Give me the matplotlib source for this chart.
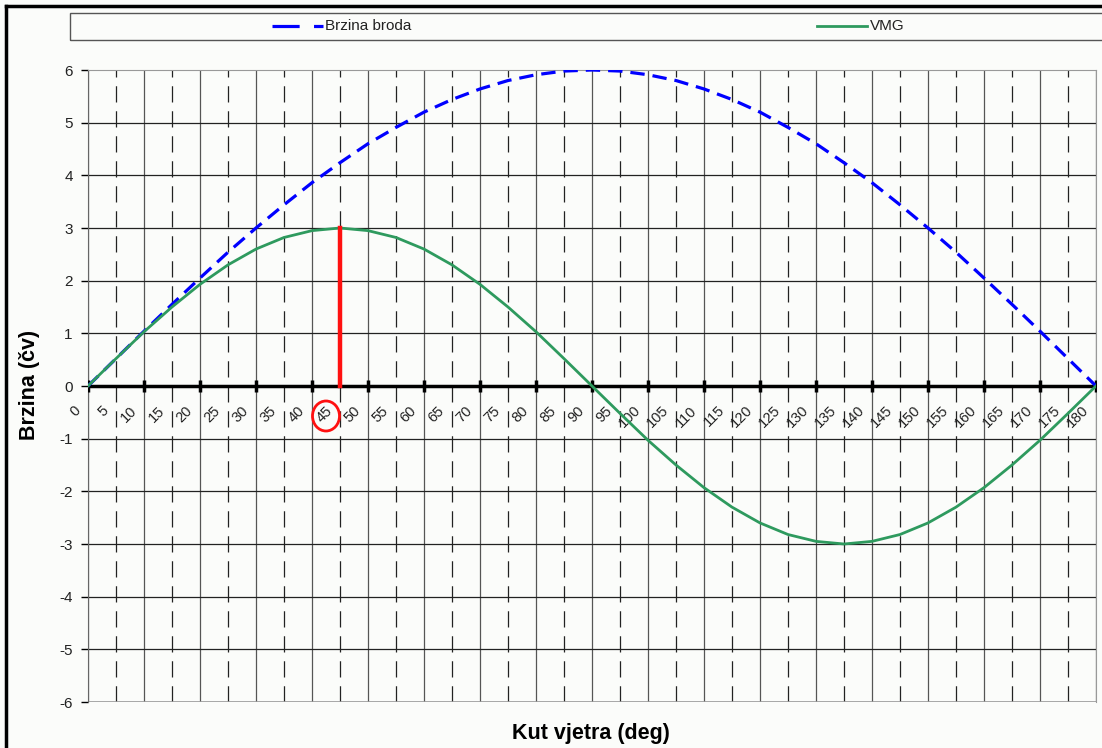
import numpy as np
import matplotlib
matplotlib.use('Agg')
import matplotlib.pyplot as plt
from matplotlib.patches import Ellipse, Rectangle
from matplotlib.lines import Line2D

plt.rcParams['font.family'] = ['Liberation Sans', 'DejaVu Sans']

# data
kut = list(range(0, 185, 5))
brzina_broda = [0, 0.52, 1.04, 1.55, 2.05, 2.54, 3.0, 3.44, 3.86, 4.24,
                4.6, 4.91, 5.2, 5.44, 5.64, 5.8, 5.91, 5.98, 6.0, 5.98,
                5.91, 5.8, 5.64, 5.44, 5.2, 4.91, 4.6, 4.24, 3.86, 3.44,
                3.0, 2.54, 2.05, 1.55, 1.04, 0.52, 0]
vmg = [0, 0.52, 1.03, 1.5, 1.93, 2.3, 2.6, 2.82, 2.95, 3.0,
       2.95, 2.82, 2.6, 2.3, 1.93, 1.5, 1.03, 0.52, 0, -0.52,
       -1.03, -1.5, -1.93, -2.3, -2.6, -2.82, -2.95, -3.0, -2.95, -2.82,
       -2.6, -2.3, -1.93, -1.5, -1.03, -0.52, 0]
y_ticks = list(range(-6, 7))
oznaka_kut = 45
oznaka_vmg = 3.0

W, H = 1102, 748
bg = '#fbfcfa'
txt = '#222222'
fig = plt.figure(figsize=(W / 100, H / 100), dpi=100, facecolor=bg)
ax = fig.add_axes([88 / W, 1 - 702 / H, (1096 - 88) / W, (702 - 70) / H])
ax.set_facecolor(bg)
ax.set_xlim(0, 180)
ax.set_ylim(-6, 6)

# grid
for k in kut:
    if k % 10 == 0:
        ax.axvline(k, color='#555555', lw=0.9, zorder=1)
    else:
        ax.axvline(k, color='#222222', lw=0.9, ls=(0, (13, 7)), zorder=1)
for y in y_ticks:
    if y not in (6, -6, 0):
        ax.axhline(y, color='#222222', lw=0.9, zorder=1)

for s in ['top', 'right', 'bottom']:
    ax.spines[s].set_color('#999999')
ax.spines['left'].set_color('#666666')
ax.spines['bottom'].set_visible(False)
ax.axhline(-6, color='#999999', lw=1.2, zorder=1)

# zero axis with ticks
ax.axhline(0, color='black', lw=2.5, zorder=3)
ax.plot(kut[::2], [0] * len(kut[::2]), ls='none', marker='|', ms=8, mew=2.5,
        color='black', zorder=3)

ax.set_xticks([])
ax.set_yticks(y_ticks)
ax.set_yticklabels([str(v) for v in y_ticks], fontsize=11, color=txt)
ax.tick_params(axis='y', length=5, width=1, color='black', pad=6)

for k in kut:
    ax.annotate(str(k), xy=(k, 0), xytext=(-7, -16), textcoords='offset points',
                rotation=45, rotation_mode='anchor', ha='right', va='center',
                fontsize=10.5, color=txt)

# series
ax.plot(kut, brzina_broda, color='#0000ff', lw=2.3, ls=(0, (4.5, 2.5)), zorder=4)
ax.plot(kut, vmg, color='#2e9a5e', lw=2.0, zorder=5)
ax.plot([oznaka_kut, oznaka_kut], [0, oznaka_vmg], color='#ff1010', lw=3.2, zorder=6)

# red circle round the 45 label
krug = Ellipse((326 / W, 1 - 416 / H), 27 / W, 30 / H, fill=False, ec='#ff1010',
               lw=2, clip_on=False, zorder=7)
ax.add_patch(krug)
krug.set_transform(fig.transFigure)

ax.set_ylabel('Brzina (čv)', fontsize=15.5, fontweight='bold', color='black')
ax.yaxis.set_label_coords(40 / W, 1 - 385 / H, transform=fig.transFigure)
fig.text(591 / W, 1 - 733 / H, 'Kut vjetra (deg)', fontsize=15.5, fontweight='bold',
         ha='center', va='center')

# legend box
fig.patches.append(Rectangle((70 / W, 1 - 40 / H), (W + 10 - 70) / W, 27 / H,
                             transform=fig.transFigure, fill=False, ec='#555555', lw=1))
fig.lines.append(Line2D([272 / W, 323 / W], [1 - 26 / H] * 2, transform=fig.transFigure,
                        color='#0000ff', lw=2.3, ls=(0, (8.5, 4.5))))
fig.text(325 / W, 1 - 26 / H, 'Brzina broda', fontsize=11, va='center', color=txt)
fig.lines.append(Line2D([817 / W, 867 / W], [1 - 26 / H] * 2, transform=fig.transFigure,
                        color='#2e9a5e', lw=2.0))
fig.text(870 / W, 1 - 26 / H, 'VMG', fontsize=11, va='center', color=txt)

# outer frame
fig.lines.append(Line2D([6 / W, 6 / W], [0, 1 - 6 / H], transform=fig.transFigure,
                        color='black', lw=2.5))
fig.lines.append(Line2D([6 / W, 1], [1 - 6 / H] * 2, transform=fig.transFigure,
                        color='black', lw=2.5))

fig.savefig('out.png', dpi=100, facecolor=bg)
